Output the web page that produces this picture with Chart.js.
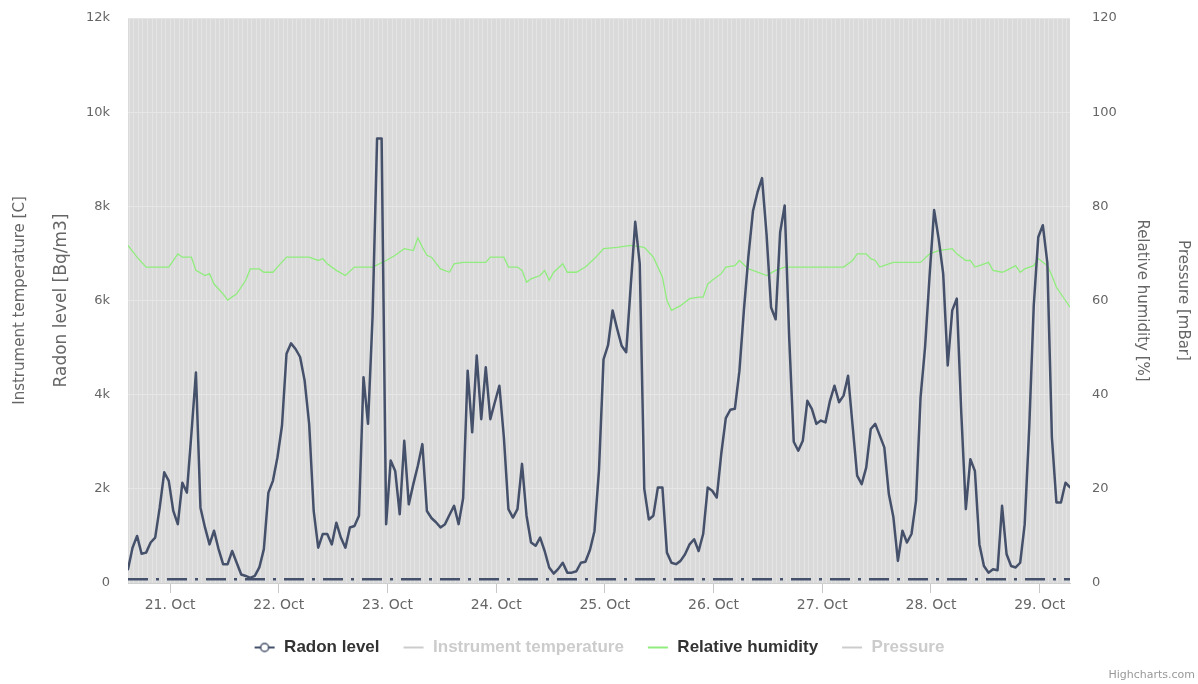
<!DOCTYPE html>
<html>
<head>
<meta charset="utf-8">
<script src="https://cdn.jsdelivr.net/npm/chart.js@4.4.1/dist/chart.umd.min.js"></script>
<style>
html, body { margin: 0; padding: 0; background: #ffffff; }
#wrap { position: relative; width: 1198px; height: 684px; }
#credit { position: absolute; right: 3px; bottom: 3px; font: 11px "DejaVu Sans", sans-serif; color: #999999; }
</style>
</head>
<body>
<div id="wrap">
  <canvas id="chart" width="1198" height="684"></canvas>
  <div id="credit">Highcharts.com</div>
</div>
<script>
// ---- data (hours counted from 21 Oct 00:00) ----
const dayLabels = ['21. Oct', '22. Oct', '23. Oct', '24. Oct', '25. Oct', '26. Oct', '27. Oct', '28. Oct', '29. Oct'];
const radonTickLabels = ['0', '2k', '4k', '6k', '8k', '10k', '12k'];
const humidityTickLabels = ['0', '20', '40', '60', '80', '100', '120'];
const sampleOffset = -0.3;      // samples taken at hh:42
const radonStartHour = -9;      // first hourly sample, 20 Oct
const radonValues = [
  290, 750, 1000, 620, 645, 860, 965, 1600, 2350,
  2170, 1530, 1250, 2130, 1920, 3170, 4470, 1600, 1180, 820, 1110, 720,
  400, 400, 680, 430, 180, 150, 110, 150, 330, 720, 1920, 2170,
  2670, 3340, 4870, 5090, 4970, 4800, 4300, 3380, 1530, 750, 1040, 1040,
  820, 1280, 965, 750, 1180, 1210, 1430, 4370, 3380, 5650, 9440, 9440,
  1250, 2600, 2380, 1460, 3020, 1670, 2100, 2490, 2950, 1530, 1380, 1290,
  1180, 1250, 1450, 1640, 1250, 1800, 4510, 3200, 4830, 3480, 4580, 3480,
  3840, 4190, 3090, 1570, 1390, 1570, 2530, 1430, 860, 790, 965, 680,
  330, 200, 300, 430, 220, 220, 250, 430, 450, 700, 1100, 2400,
  4750, 5050, 5790, 5400, 5040, 4900, 6300, 7670, 6780, 2000, 1350, 1430,
  2030, 2030, 645, 430, 400, 470, 610, 820, 930, 680, 1040, 2030,
  1960, 1815, 2750, 3500, 3680, 3700, 4500, 5800, 6950, 7900, 8300, 8600,
  7400, 5850, 5600, 7450, 8020, 5200, 3000, 2810, 3020, 3870, 3700, 3380,
  3450, 3410, 3870, 4190, 3840, 3980, 4400, 3340, 2280, 2100, 2450, 3270,
  3380, 3130, 2880, 1890, 1400, 470, 1110, 860, 1040, 1745, 3940, 5010,
  6530, 7920, 7310, 6570, 4620, 5790, 6040, 3600, 1570, 2630, 2380, 820,
  360, 220, 290, 270, 1640, 610, 360, 330, 430, 1250, 3300, 5900,
  7350, 7600, 6800, 3100, 1710, 1710, 2130, 2030
];
const humidityHours = [
  -9, -7, -5, 0, 2, 3, 5, 6, 8, 9, 10, 12, 13, 15, 17, 18, 20, 21, 23, 24,
  26, 29, 31, 33, 34, 35, 37, 39, 41, 45, 48, 50, 52, 54, 55, 56, 57, 58, 60, 62,
  63, 65, 70, 71, 74, 75, 77, 78, 79, 80, 82, 83, 84, 85, 87, 88, 90, 92, 94, 96,
  99, 102, 105, 107, 109, 110, 111, 113, 115, 117, 118, 119, 120, 122, 123, 125, 126, 128, 129, 132,
  134, 136, 149, 151, 152, 154, 155, 156, 157, 159, 160, 166, 168, 170, 173, 174, 176, 177, 178, 179,
  181, 182, 184, 185, 187, 188, 189, 191, 192, 194, 195, 196, 198, 199
];
const humidityValues = [
  71.7, 69.2, 67.1, 67.1, 69.9, 69.2, 69.2, 66.4, 65.3, 65.7, 63.5, 61.4, 60.1, 61.4, 64.3, 66.7, 66.7, 66.0, 66.0, 67.1,
  69.2, 69.2, 69.2, 68.5, 68.9, 67.8, 66.4, 65.3, 67.1, 67.1, 68.5, 69.6, 71.0, 70.6, 73.3, 71.3, 69.6, 69.2, 66.7, 66.0,
  67.8, 68.1, 68.1, 69.2, 69.2, 67.1, 67.1, 66.4, 63.9, 64.6, 65.3, 66.4, 64.3, 66.0, 67.8, 66.0, 66.0, 67.1, 68.9, 71.0,
  71.3, 71.7, 71.3, 69.2, 65.0, 60.0, 57.9, 58.9, 60.4, 60.7, 60.7, 63.5, 64.3, 65.7, 67.1, 67.4, 68.5, 66.7, 66.4, 65.3,
  66.4, 67.1, 67.1, 68.5, 69.9, 69.9, 68.9, 68.5, 67.1, 67.8, 68.1, 68.1, 69.9, 70.6, 71.0, 69.9, 68.5, 68.5, 67.1, 67.4,
  68.1, 66.4, 66.0, 66.4, 67.4, 66.0, 66.7, 67.4, 68.9, 67.4, 65.3, 62.8, 60.0, 58.6
];
const thresholdValue = 80;
const seriesNames = ['Radon level', 'Instrument temperature', 'Relative humidity', 'Pressure'];

// ---- build datasets from the arrays ----
const radonData = radonValues.map((v, i) => ({ x: radonStartHour + i + sampleOffset, y: v }));
const humidityData = humidityHours.map((h, i) => ({ x: h + sampleOffset, y: humidityValues[i] }));
const xMin = radonData[0].x;
const xMax = radonData[radonData.length - 1].x;
const thresholdData = [{ x: xMin, y: thresholdValue }, { x: xMax, y: thresholdValue }];
const hourTicks = [];
for (let h = Math.ceil(xMin); h <= Math.floor(xMax); h++) hourTicks.push(h);

const RADON = '#45506a';
const HUM = '#90ed7d';
const HIDDEN = '#cccccc';
const TXT = '#666666';
const FONT = '"DejaVu Sans", Verdana, sans-serif';
const NOTICK = 'rgba(0,0,0,0)';

function swatch(color, circle) {
  const c = document.createElement('canvas');
  c.width = 22; c.height = 12;
  const g = c.getContext('2d');
  g.strokeStyle = color; g.lineWidth = 2;
  g.beginPath(); g.moveTo(1, 6); g.lineTo(21, 6); g.stroke();
  if (circle) {
    g.beginPath(); g.arc(11, 6, 4, 0, Math.PI * 2);
    g.fillStyle = '#ffffff'; g.fill(); g.lineWidth = 1.5; g.stroke();
  }
  return c;
}

const plotBackground = {
  id: 'plotBackground',
  beforeDraw(chart) {
    const { ctx, chartArea: a } = chart;
    ctx.save();
    ctx.fillStyle = '#dadada';
    ctx.fillRect(a.left, a.top, a.right - a.left, a.bottom - a.top);
    ctx.restore();
  }
};

const titleFont = { family: FONT, size: 15 };
const isDay = v => Math.abs(v % 24) < 1e-6;

new Chart(document.getElementById('chart'), {
  type: 'line',
  data: {
    datasets: [
      { label: seriesNames[0], data: radonData, yAxisID: 'yRadon', borderColor: RADON, borderWidth: 2.5,
        pointRadius: 0, borderJoinStyle: 'round', borderCapStyle: 'round', tension: 0,
        legendSwatch: swatch(RADON, true), legendColor: '#333333' },
      { label: seriesNames[1], data: [], yAxisID: 'yTemp', borderColor: '#7cb5ec', pointRadius: 0,
        legendSwatch: swatch(HIDDEN, false), legendColor: HIDDEN },
      { label: seriesNames[2], data: humidityData, yAxisID: 'yHum', borderColor: HUM, borderWidth: 1.3,
        pointRadius: 0, tension: 0, legendSwatch: swatch(HUM, false), legendColor: '#333333' },
      { label: seriesNames[3], data: [], yAxisID: 'yPress', borderColor: '#f7a35c', pointRadius: 0,
        legendSwatch: swatch(HIDDEN, false), legendColor: HIDDEN },
      { label: '', data: thresholdData, yAxisID: 'yRadon', borderColor: RADON, borderWidth: 2.5,
        borderDash: [20, 8, 3, 8], pointRadius: 0, skipLegend: true }
    ]
  },
  options: {
    responsive: false,
    animation: false,
    devicePixelRatio: 1,
    layout: { padding: { top: 18, bottom: 18, left: 0, right: 0 } },
    plugins: {
      tooltip: { enabled: false },
      legend: {
        position: 'bottom',
        labels: {
          usePointStyle: true,
          pointStyleWidth: 22,
          padding: 23,
          font: { family: '"Liberation Sans", Arial, sans-serif', size: 17, weight: 'bold' },
          generateLabels(chart) {
            return chart.data.datasets.map((ds, i) => ds.skipLegend ? null : {
              text: ds.label, fillStyle: ds.borderColor, strokeStyle: ds.borderColor,
              pointStyle: ds.legendSwatch, fontColor: ds.legendColor, hidden: false, datasetIndex: i, lineWidth: 0
            }).filter(Boolean);
          }
        }
      }
    },
    scales: {
      x: {
        type: 'linear', position: 'bottom', min: xMin, max: xMax,
        afterFit(s) { s.height = 33; },
        afterBuildTicks(s) { s.ticks = hourTicks.map(v => ({ value: v })); },
        ticks: {
          autoSkip: false, maxRotation: 0, minRotation: 0, padding: 4,
          color: TXT, font: { family: FONT, size: 14 },
          callback(v) { return isDay(v) ? dayLabels[Math.round(v / 24)] : ''; }
        },
        grid: {
          color: '#e4e4e4', lineWidth: 1, drawTicks: true, tickLength: 10,
          tickColor(ctx) { return (ctx.tick && isDay(ctx.tick.value)) ? '#c8c8c8' : NOTICK; }
        },
        border: { display: true, color: '#cfcfcf' }
      },
      yTemp: {
        position: 'left', weight: 1, min: 0, max: 1,
        afterFit(s) { s.width = 40; },
        ticks: { display: false }, grid: { display: false }, border: { display: false },
        title: { display: true, text: 'Instrument temperature [C]', color: TXT, font: titleFont, padding: { top: 11, bottom: 0 } }
      },
      yRadon: {
        position: 'left', weight: 0, min: 0, max: 12000,
        afterFit(s) { s.width = 88; },
        ticks: { stepSize: 2000, padding: 3, color: TXT, font: { family: FONT, size: 13 },
          callback(v) { return radonTickLabels[Math.round(v / 2000)]; } },
        grid: { color: '#e6e6e6', drawTicks: true, tickLength: 15, tickColor: NOTICK },
        border: { display: false },
        title: { display: true, text: 'Radon level [Bq/m3]', color: TXT, font: { family: FONT, size: 17 }, padding: { top: 11, bottom: 0 } }
      },
      yHum: {
        position: 'right', weight: 0, min: 0, max: 120,
        afterFit(s) { s.width = 90; },
        ticks: { stepSize: 20, padding: 3, color: TXT, font: { family: FONT, size: 13 },
          callback(v) { return humidityTickLabels[Math.round(v / 20)]; } },
        grid: { drawOnChartArea: false, drawTicks: true, tickLength: 19, tickColor: NOTICK },
        border: { display: false },
        title: { display: true, text: 'Relative humidity [%]', color: TXT, font: titleFont, padding: { top: 9, bottom: 0 } }
      },
      yPress: {
        position: 'right', weight: 1, min: 0, max: 1,
        afterFit(s) { s.width = 38; },
        ticks: { display: false }, grid: { display: false }, border: { display: false },
        title: { display: true, text: 'Pressure [mBar]', color: TXT, font: titleFont, padding: { top: 6, bottom: 0 } }
      }
    }
  },
  plugins: [plotBackground]
});
</script>
</body>
</html>
